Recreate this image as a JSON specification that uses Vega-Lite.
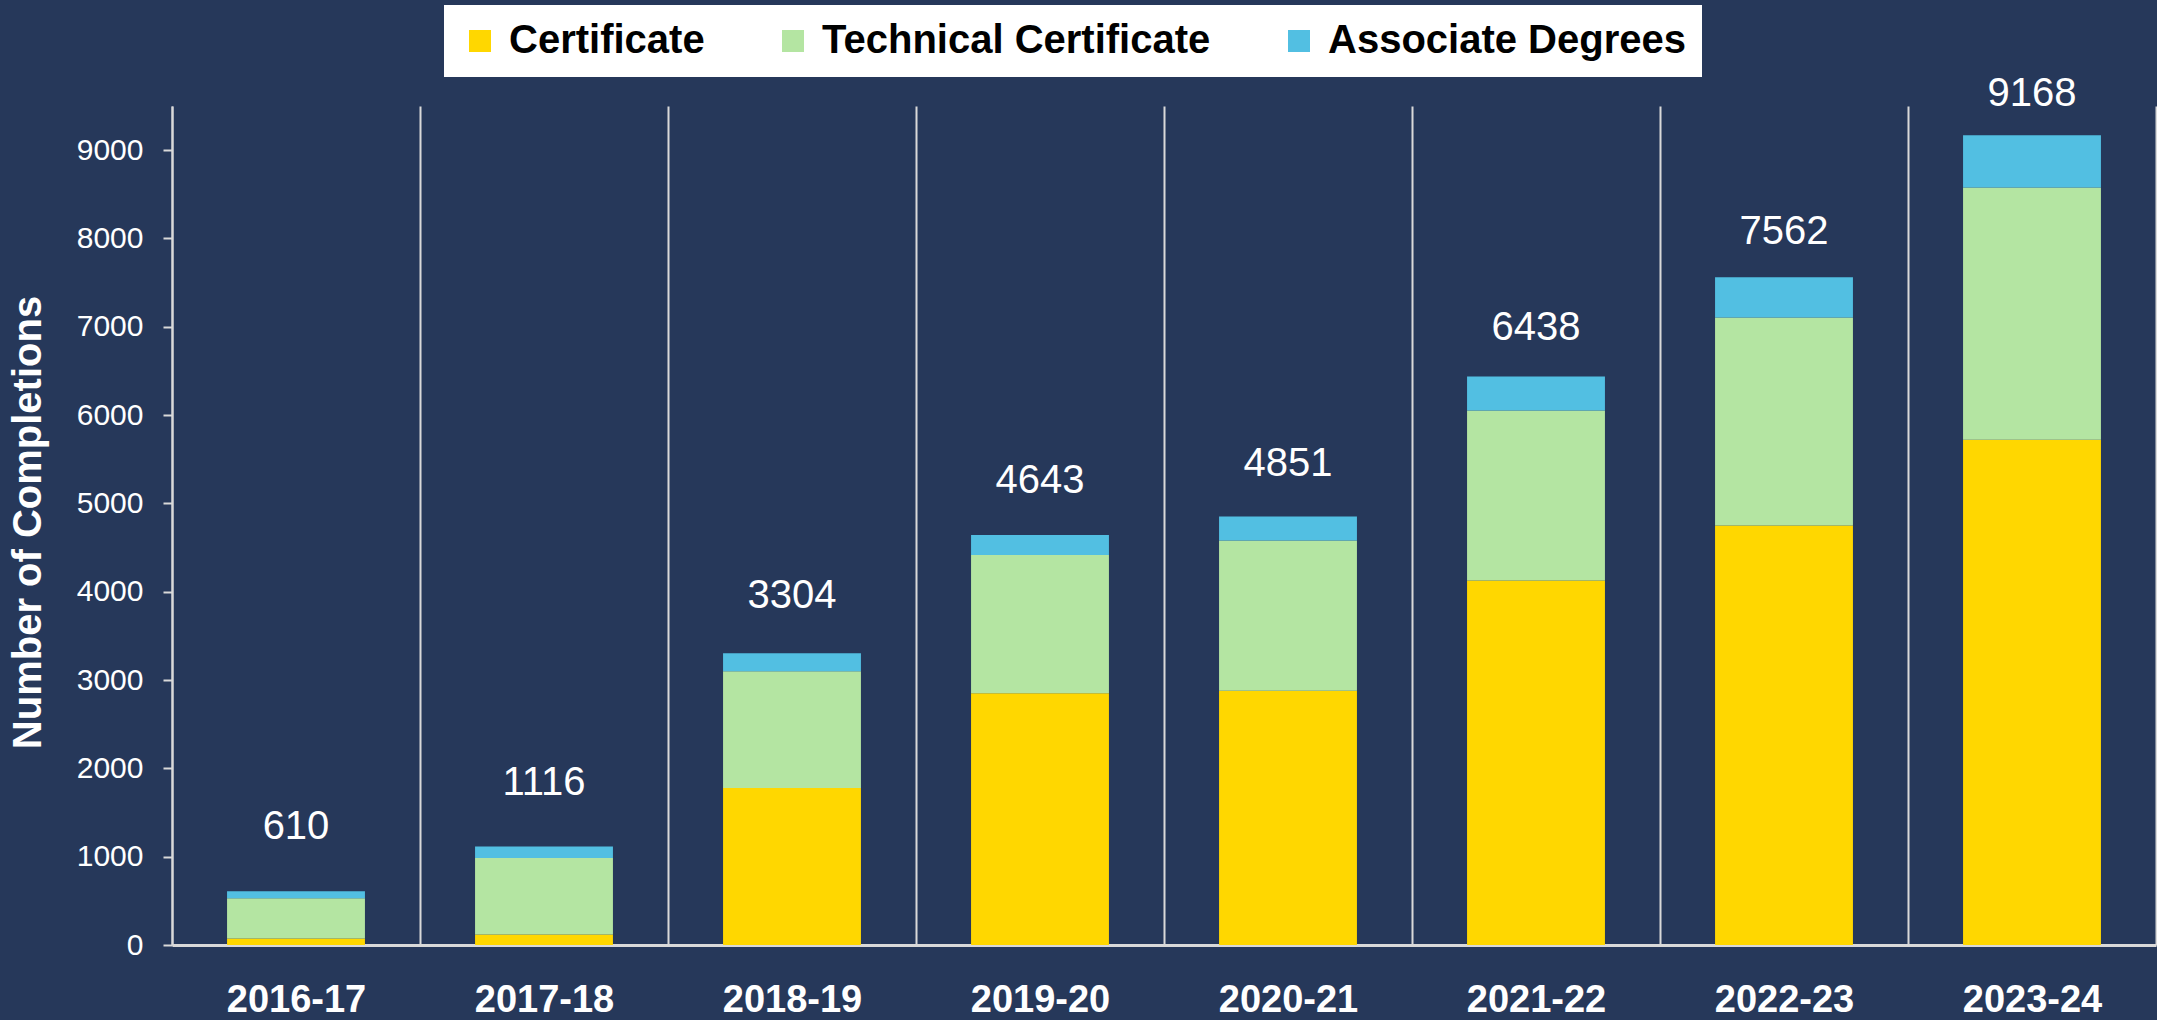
{
  "$schema": "https://vega.github.io/schema/vega-lite/v6.json",
  "width": 1984,
  "height": 839,
  "autosize": "none",
  "padding": {"left": 172, "top": 106, "right": 1, "bottom": 75},
  "background": "#26385A",
  "config": {"view": {"stroke": null}, "font": "Liberation Sans"},
  "data": {
    "values": [
      {"year": "2016-17", "type": "Certificate", "value": 75},
      {"year": "2016-17", "type": "Technical Certificate", "value": 455},
      {"year": "2016-17", "type": "Associate Degrees", "value": 80},
      {"year": "2017-18", "type": "Certificate", "value": 120},
      {"year": "2017-18", "type": "Technical Certificate", "value": 865},
      {"year": "2017-18", "type": "Associate Degrees", "value": 131},
      {"year": "2018-19", "type": "Certificate", "value": 1777},
      {"year": "2018-19", "type": "Technical Certificate", "value": 1322},
      {"year": "2018-19", "type": "Associate Degrees", "value": 205},
      {"year": "2019-20", "type": "Certificate", "value": 2850},
      {"year": "2019-20", "type": "Technical Certificate", "value": 1565},
      {"year": "2019-20", "type": "Associate Degrees", "value": 228},
      {"year": "2020-21", "type": "Certificate", "value": 2880},
      {"year": "2020-21", "type": "Technical Certificate", "value": 1700},
      {"year": "2020-21", "type": "Associate Degrees", "value": 271},
      {"year": "2021-22", "type": "Certificate", "value": 4126},
      {"year": "2021-22", "type": "Technical Certificate", "value": 1927},
      {"year": "2021-22", "type": "Associate Degrees", "value": 385},
      {"year": "2022-23", "type": "Certificate", "value": 4750},
      {"year": "2022-23", "type": "Technical Certificate", "value": 2355},
      {"year": "2022-23", "type": "Associate Degrees", "value": 457},
      {"year": "2023-24", "type": "Certificate", "value": 5720},
      {"year": "2023-24", "type": "Technical Certificate", "value": 2858},
      {"year": "2023-24", "type": "Associate Degrees", "value": 590}
    ]
  },
  "resolve": {"scale": {"y": "independent"}},
  "layer": [
    {
      "mark": {"type": "bar", "width": {"band": 0.556}},
      "encoding": {
        "x": {
          "field": "year",
          "type": "ordinal",
          "scale": {"paddingInner": 0, "paddingOuter": 0},
          "axis": {
            "title": null,
            "labelAngle": 0,
            "labelFontSize": 38,
            "labelFontWeight": "bold",
            "labelColor": "white",
            "labelBaseline": "top",
            "labelPadding": 36,
            "ticks": false,
            "tickSize": 0,
            "tickBand": "extent",
            "grid": true,
            "gridColor": "#D9D9D9",
            "gridWidth": 2,
            "domain": true,
            "domainColor": "#D9D9D9",
            "domainWidth": 3
          }
        },
        "y": {
          "field": "value",
          "type": "quantitative",
          "stack": "zero",
          "scale": {"domain": [0, 9500], "nice": false},
          "axis": {
            "title": "Number of Completions",
            "titleFontSize": 40,
            "titleFontWeight": "bold",
            "titleColor": "white",
            "titleAngle": -90,
            "titleX": -144,
            "titleY": 416,
            "titleAlign": "center",
            "titleBaseline": "middle",
            "values": [0, 1000, 2000, 3000, 4000, 5000, 6000, 7000, 8000, 9000],
            "format": "d",
            "labelFontSize": 30,
            "labelColor": "white",
            "labelPadding": 20,
            "tickSize": 9,
            "tickColor": "#D9D9D9",
            "tickWidth": 2,
            "domainColor": "#D9D9D9",
            "domainWidth": 2,
            "grid": false
          }
        },
        "order": {"field": "year"},
        "color": {
          "field": "type",
          "type": "nominal",
          "sort": ["Certificate", "Technical Certificate", "Associate Degrees"],
          "scale": {
            "domain": ["Certificate", "Technical Certificate", "Associate Degrees"],
            "range": ["#FFD700", "#B4E5A2", "#52BFE2"]
          },
          "legend": {
            "orient": "none",
            "legendX": 272,
            "legendY": -101,
            "direction": "horizontal",
            "title": null,
            "fillColor": "white",
            "padding": 16,
            "labelFontSize": 40,
            "labelFontWeight": "bold",
            "labelColor": "black",
            "labelLimit": 800,
            "symbolType": "square",
            "symbolSize": 484,
            "symbolStrokeWidth": 0,
            "symbolOpacity": 1,
            "labelOffset": 9,
            "columnPadding": 68
          }
        }
      }
    },
    {
      "mark": {"type": "text", "baseline": "alphabetic", "fontSize": 40, "color": "white"},
      "encoding": {
        "x": {"field": "year", "type": "ordinal"},
        "y": {"aggregate": "sum", "field": "value", "type": "quantitative", "scale": {"domain": [-634, 9168.5], "nice": false, "zero": false}, "axis": null},
        "text": {"aggregate": "sum", "field": "value", "type": "quantitative", "format": "d"}
      }
    }
  ]
}
